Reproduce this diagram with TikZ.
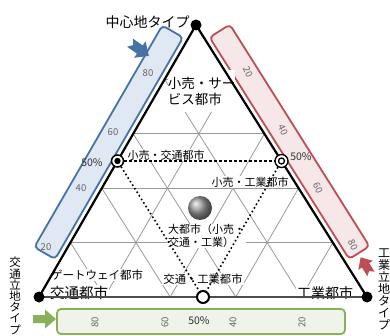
\documentclass[tikz,border=0pt]{standalone}
\usepackage{fontspec}
\setmainfont{Noto Sans CJK JP}
\usetikzlibrary{calc}
\definecolor{axisblue}{RGB}{70,114,166}
\definecolor{barblue}{RGB}{224,232,243}
\definecolor{axisred}{RGB}{190,78,86}
\definecolor{barred}{RGB}{246,231,232}
\definecolor{axisgreen}{RGB}{138,176,92}
\definecolor{bargreen}{RGB}{239,243,233}

\begin{document}
\begin{tikzpicture}[
  x=1pt, y=-1pt,
  gridline/.style={draw=black!40, line width=0.8pt},
  tag/.style={fill=white, inner sep=1pt, font=\fontsize{11}{12.5}\selectfont},
  bigtag/.style={fill=white, inner sep=1pt, font=\fontsize{14.5}{16}\selectfont},
  num/.style={inner sep=0pt, text=black!60, font=\fontsize{9.5}{10}\selectfont},
  pct/.style={inner sep=0pt, text=black!80, font=\fontsize{10.5}{11}\selectfont},
  vtx/.style={circle, fill=black, inner sep=0pt, minimum size=11pt},
  axisbar/.style={rounded corners=4pt, line width=1.8pt, minimum height=24pt, inner sep=0pt},
  vlabel/.style={inner sep=0pt, align=center, font=\fontsize{12}{11.6}\selectfont},
  bullseye/.style={circle, draw, line width=1.5pt, fill=white, minimum size=12pt, inner sep=0pt,
    path picture={\fill[black] (path picture bounding box.center) circle (3.2pt);}},
  dring/.style={circle, draw, line width=1.3pt, fill=white, minimum size=13pt, inner sep=0pt,
    path picture={\draw[black, line width=1.3pt] (path picture bounding box.center) circle (3pt);}},
  hollow/.style={circle, draw, line width=2pt, fill=white, minimum size=12pt, inner sep=0pt}
]
\useasboundingbox (0,0) rectangle (390,336);

% corners of the triangle
\coordinate (A) at (196,25);
\coordinate (BL) at (39,297);
\coordinate (BR) at (367,297);
\coordinate (Mt) at ($(BL)!0.5!(A)$);
\coordinate (Mi) at ($(BR)!0.5!(A)$);
\coordinate (Mk) at ($(BL)!0.5!(BR)$);

% axis bars
\node[axisbar, draw=axisblue, fill=barblue, rotate=60, minimum width=256pt] (barT) at (108.7,142.3) {};
\node[axisbar, draw=axisred, fill=barred, rotate=-57.8, minimum width=262pt] (barI) at (289.5,141.8) {};
\node[axisbar, draw=axisgreen, fill=bargreen, minimum width=288pt, minimum height=25pt] (barK) at (201,321.5) {};

% reading arrows
\fill[axisgreen] (33,315) -- (45,315) -- (45,309.5) -- (56,319) -- (45,328.5) -- (45,323) -- (33,323) -- cycle;
\fill[axisblue, shift={(139,49)}, rotate=-35] (-11,-5) -- (1,-5) -- (1,-10) -- (12,0) -- (1,10) -- (1,5) -- (-11,5) -- (-7,0) -- cycle;
\fill[axisred, shift={(366,266)}, rotate=122, scale=0.85] (-11,-5) -- (1,-5) -- (1,-10) -- (12,0) -- (1,10) -- (1,5) -- (-11,5) -- (-7,0) -- cycle;

% 20% grid
\foreach \k/\j in {1/4,2/3,3/2,4/1}{
  \coordinate (L\k) at ($(BL)!\k/5!(A)$);
  \coordinate (R\k) at ($(BR)!\k/5!(A)$);
  \coordinate (B\k) at ($(BL)!\k/5!(BR)$);
}
\foreach \k/\j in {1/4,2/3,3/2,4/1}{
  \draw[gridline] (L\k) -- (R\k);
  \draw[gridline] (B\k) -- (L\k);
  \draw[gridline] (B\k) -- (R\j);
}

% city types
\node[fill=white, inner xsep=0pt, minimum height=42pt, align=left,
      font=\fontsize{13.5}{16}\selectfont] (service) at (201.5,91) {小売・サー\\ビス都市};
\node[tag] (retailTlbl) at (166,155) {小売・交通都市};
\node[tag] (retailIlbl) at (250,182) {小売・工業都市};
\node[tag, align=left, anchor=west] (metrolbl) at (167,236) {大都市（小売・\\交通・工業）};
\node[tag, font=\fontsize{11.3}{13}\selectfont] (transIndlbl) at (203,279) {交通・工業都市};
\node[tag, font=\fontsize{11.5}{13}\selectfont] (gateway) at (97,275) {ゲートウェイ都市};
\node[bigtag] (transit) at (79,293) {交通都市};
\node[bigtag, font=\fontsize{14}{16}\selectfont] (industry) at (325,293) {工業都市};

% sides
\draw[black!70, line width=1.3pt] (BL) -- (BR);
\draw[line width=2.2pt] (BL) -- (A) -- (BR);

% mixed types
\node[bullseye] (retailT) at (Mt) {};
\node[dring] (retailI) at (Mi) {};
\node[hollow] (transInd) at (Mk) {};
\draw[densely dashed, line width=1.2pt] (retailT) -- (retailI);
\draw[line width=1.6pt, dash pattern=on 1.6pt off 2.6pt] (retailT) -- (transInd);
\draw[line width=1.6pt, dash pattern=on 1.6pt off 2.6pt] (retailI) -- (transInd);
\node[circle, ball color=black!40, minimum size=24pt, inner sep=0pt] (metro) at (200,208) {};

\node[vtx] (topV) at (A) {};
\node[vtx] (leftV) at (BL) {};
\node[vtx] (rightV) at (BR) {};

% scale values
\node[num] (t80) at (148,73) {80};
\node[num] (t60) at (113,132) {60};
\node[num] (t40) at (81,188) {40};
\node[num] (t20) at (46,247) {20};
\node[num, rotate=-65] (i20) at (248,72) {20};
\node[num, rotate=-65] (i40) at (283,130) {40};
\node[num, rotate=-65] (i60) at (318,188) {60};
\node[num, rotate=-65] (i80) at (353,245) {80};
\node[num, rotate=90] (k80) at (95,322) {80};
\node[num, rotate=90] (k60) at (165,322) {60};
\node[num, rotate=90] (k40) at (233,322) {40};
\node[num, rotate=90] (k20) at (302,322) {20};
\node[pct] (tHalf) at (92,163) {50\%};
\node[pct] (iHalf) at (301,157) {50\%};
\node[pct] (kHalf) at (199,321) {50\%};

% axis names
\node[font=\fontsize{14}{16}\selectfont, inner sep=0pt] (centre) at (147.5,22) {中心地タイプ};
\node[vlabel, anchor=north, font=\fontsize{11.5}{11.2}\selectfont] (transitType) at (15,257) {交\\通\\立\\地\\タ\\イ\\プ};
\node[vlabel, anchor=north, font=\fontsize{12}{12}\selectfont] (industryType) at (384,249) {工\\業\\立\\地\\タ\\イ\\プ};
\end{tikzpicture}
\end{document}
